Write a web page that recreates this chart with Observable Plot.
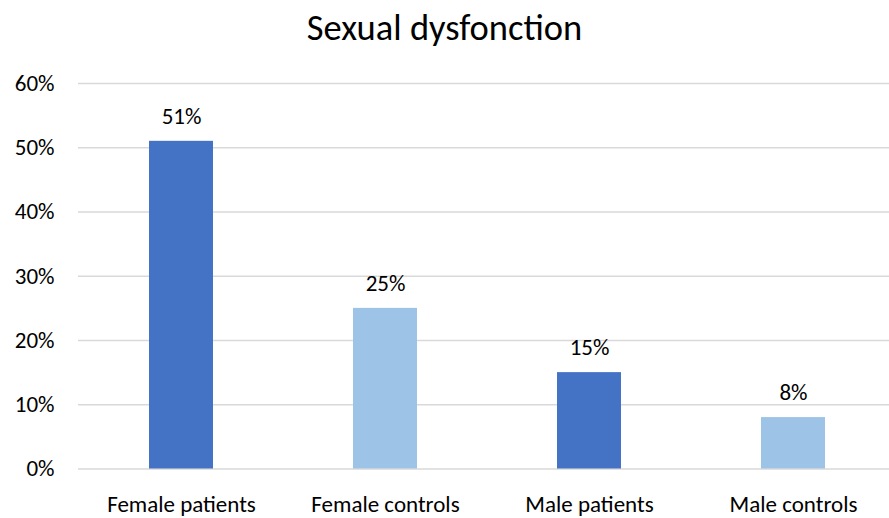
<!DOCTYPE html>
<html>
<head>
<meta charset="utf-8">
<script src="https://cdn.jsdelivr.net/npm/d3@7"></script>
<script src="https://cdn.jsdelivr.net/npm/@observablehq/plot@0.6"></script>
<style>
  html, body { margin: 0; padding: 0; background: #fff; }
  body { width: 889px; height: 518px; overflow: hidden; font-family: Carlito, Calibri, Lato, sans-serif; }
  #title { height: 50px; line-height: 56px; text-align: center; font-size: 36.5px; color: #000; }
</style>
</head>
<body>
<div id="title">Sexual dysfonction</div>
<div id="chart"></div>
<script>
const categories = ["Female patients", "Female controls", "Male patients", "Male controls"];
const values = [51, 25, 15, 8];
const groups = ["patients", "controls", "patients", "controls"];
const yTicks = [0, 10, 20, 30, 40, 50, 60];

const data = categories.map((c, i) => ({category: c, value: values[i], group: groups[i]}));

const chart = Plot.plot({
  width: 889,
  height: 468,
  marginTop: 33,
  marginBottom: 49.5,
  marginLeft: 78,
  marginRight: 0,
  style: {fontFamily: "Carlito, Calibri, Lato, sans-serif", fontSize: "23px", color: "#000", background: "#fff", overflow: "visible"},
  x: {domain: categories, range: [78, 895], paddingInner: 0.687, paddingOuter: 0.3435, label: null, tickSize: 0, tickPadding: 27},
  y: {domain: [0, 60], label: null, ticks: yTicks, tickFormat: d => d + "%", tickSize: 0, tickPadding: 24},
  color: {domain: ["patients", "controls"], range: ["#4472c4", "#9dc3e6"]},
  marks: [
    Plot.ruleY(yTicks, {stroke: "#d9d9d9", strokeWidth: 1.5}),
    Plot.barY(data, {x: "category", y: "value", fill: "group"}),
    Plot.text(data, {x: "category", y: "value", text: d => d.value + "%", dy: -25, fontSize: 23, fill: "#000"})
  ]
});
document.getElementById("chart").appendChild(chart);
</script>
</body>
</html>
